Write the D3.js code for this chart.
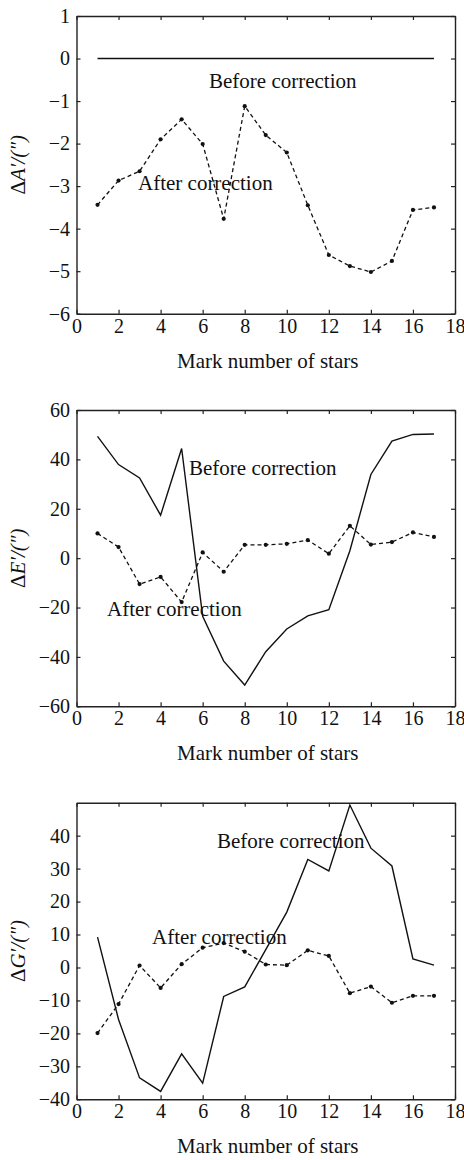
<!DOCTYPE html>
<html><head><meta charset="utf-8">
<script src="https://cdn.jsdelivr.net/npm/d3@7"></script>
<style>
html,body{margin:0;padding:0;background:#fff;}
svg{display:block;}
svg text{font-family:"Liberation Serif","Times New Roman",serif !important;fill:#111;}
</style></head>
<body>
<svg id="chart" width="464" height="1160"></svg>
<script>
// ---- data ----
const stars = [1,2,3,4,5,6,7,8,9,10,11,12,13,14,15,16,17];
const xTicks = [0,2,4,6,8,10,12,14,16,18];

const beforeA = [0,0,0,0,0,0,0,0,0,0,0,0,0,0,0,0,0];
const afterA  = [-3.44,-2.87,-2.65,-1.90,-1.43,-2.01,-3.77,-1.12,-1.80,-2.21,-3.45,-4.62,-4.88,-5.02,-4.76,-3.56,-3.50];
const ticksA  = [-6,-5,-4,-3,-2,-1,0,1];

const beforeE = [49.3,37.9,32.5,17.4,44.4,-23.6,-41.7,-51.4,-37.9,-28.7,-23.4,-20.9,3,33.9,47.4,50.1,50.3];
const afterE  = [10.0,4.5,-10.5,-7.6,-17.8,2.3,-5.5,5.4,5.4,5.8,7.3,1.8,13.1,5.5,6.5,10.4,8.6];
const ticksE  = [-60,-40,-20,0,20,40,60];

const beforeG = [9.2,-15.8,-33.5,-37.6,-26.2,-35.1,-8.8,-5.9,5.4,16.8,32.8,29.3,49.3,36.2,30.8,2.6,0.7];
const afterG  = [-19.9,-11.1,0.6,-6.2,1.0,6.0,7.4,4.8,0.9,0.7,5.2,3.5,-7.8,-5.8,-10.7,-8.6,-8.6];
const ticksG  = [-40,-30,-20,-10,0,10,20,30,40];

const labelsX = "Mark number of stars";
const seriesNames = ["Before correction","After correction"];

// ---- layout ----
const FONT = '"Liberation Serif","Times New Roman",serif';
const svg = d3.select("#chart");
const left = 76.5, right = 455;
const x = d3.scaleLinear().domain([0,18]).range([left,right]);

const panels = [
  {before:beforeA, after:afterA, ticks:ticksA, domain:[-6,1], top:16, bottom:313.7, sym:"A",
   bLab:[209,88], aLab:[138,190]},
  {before:beforeE, after:afterE, ticks:ticksE, domain:[-60,60], top:410, bottom:706.3, sym:"E",
   bLab:[189,474.5], aLab:[107,616]},
  {before:beforeG, after:afterG, ticks:ticksG, domain:[-40,50], top:802.7, bottom:1099.3, sym:"G",
   bLab:[217,847.5], aLab:[152,943.5]}
];

panels.forEach(p => {
  const y = d3.scaleLinear().domain(p.domain).range([p.bottom,p.top]);
  const g = svg.append("g");
  const axStyle = sel => {
    sel.attr("font-family",FONT).attr("font-size",20);
    sel.selectAll("path.domain").attr("stroke","#222").attr("stroke-width",1.4).attr("fill","none");
    sel.selectAll(".tick line").attr("stroke","#222").attr("stroke-width",1.2);
    sel.selectAll(".tick text").attr("font-family",FONT).attr("font-size",20).attr("fill","#111");
  };
  g.append("g").attr("transform",`translate(0,${p.bottom})`)
    .call(d3.axisBottom(x).tickValues(xTicks).tickSize(-4).tickSizeOuter(0).tickPadding(5).tickFormat(d3.format("d")))
    .call(axStyle);
  g.append("g").attr("transform",`translate(0,${p.top})`)
    .call(d3.axisTop(x).tickValues(xTicks).tickSize(-4).tickSizeOuter(0).tickFormat(""))
    .call(axStyle);
  g.append("g").attr("transform",`translate(${left},0)`)
    .call(d3.axisLeft(y).tickValues(p.ticks).tickSize(-4).tickSizeOuter(0).tickPadding(6.5).tickFormat(d3.format("d")))
    .call(axStyle);
  g.append("g").attr("transform",`translate(${right},0)`)
    .call(d3.axisRight(y).tickValues(p.ticks).tickSize(-4).tickSizeOuter(0).tickFormat(""))
    .call(axStyle);

  const line = d3.line().x((d,i)=>x(stars[i])).y(d=>y(d));
  g.append("path").datum(p.before).attr("d",line)
    .attr("fill","none").attr("stroke","#111").attr("stroke-width",1.4);
  g.append("path").datum(p.after).attr("d",line)
    .attr("fill","none").attr("stroke","#111").attr("stroke-width",1.3).attr("stroke-dasharray","4,3");
  g.selectAll("circle.m").data(p.after).enter().append("circle")
    .attr("cx",(d,i)=>x(stars[i])).attr("cy",d=>y(d)).attr("r",2.1).attr("fill","#111");

  const lab = (t) => t.attr("font-family",FONT).attr("font-size",21);
  g.append("text").attr("x",p.bLab[0]).attr("y",p.bLab[1]).call(lab).text(seriesNames[0]);
  g.append("text").attr("x",p.aLab[0]).attr("y",p.aLab[1]).call(lab).text(seriesNames[1]);

  g.append("text").attr("x",(left+right)/2 + 2).attr("y",p.bottom+54)
    .attr("text-anchor","middle").call(lab).text(labelsX);

  const cy = (p.top+p.bottom)/2;
  const yl = g.append("text").attr("transform",`translate(25,${cy}) rotate(-90)`)
    .attr("text-anchor","middle").call(lab);
  yl.append("tspan").text("Δ");
  yl.append("tspan").attr("font-style","italic").text(p.sym);
  yl.append("tspan").attr("font-style","italic").text("′/(″)");
});
</script>
</body></html>
